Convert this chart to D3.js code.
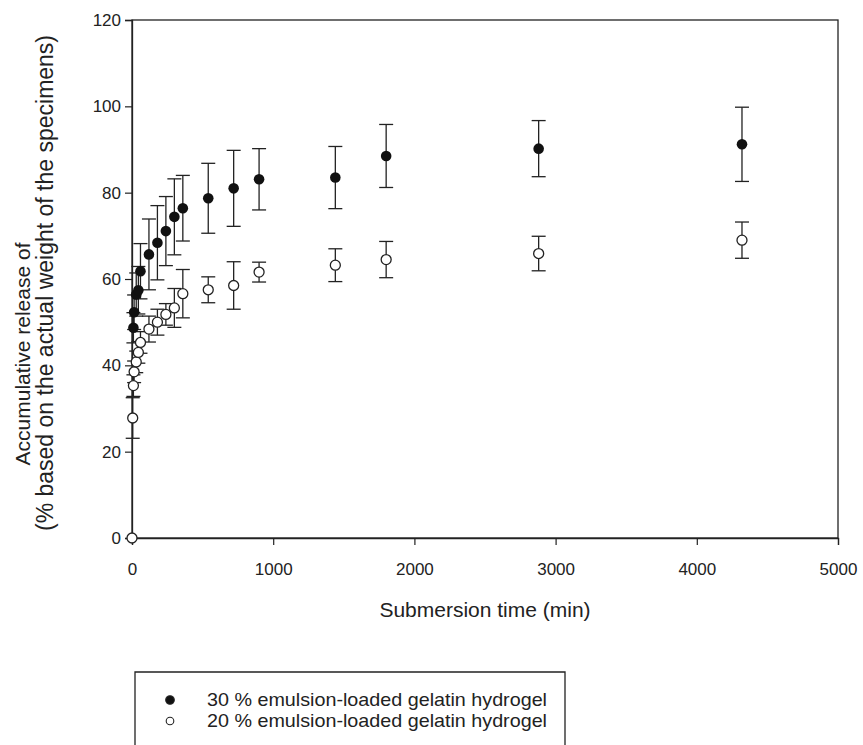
<!DOCTYPE html>
<html>
<head>
<meta charset="utf-8">
<script src="https://cdn.jsdelivr.net/npm/d3@7"></script>
<style>
	body { margin: 0; background: #fff; }
	svg { font-family: "Liberation Sans", Arial, sans-serif; }
</style>
</head>
<body>
<div id="chart"></div>
<script>
// submersion time (min)
let times30 = [10, 15, 30, 45, 60, 120, 180, 240, 300, 360, 540, 720, 900, 1440, 1800, 2880, 4320];
let release30 = [48.7, 52.3, 56.4, 57.4, 61.8, 65.7, 68.4, 71.1, 74.4, 76.4, 78.7, 81.0, 83.1, 83.5, 88.5, 90.2, 91.2];
let err30 = [3.5, 4, 5, 5.5, 6.4, 8.2, 8.6, 8.0, 8.8, 7.6, 8.1, 8.8, 7.1, 7.2, 7.3, 6.5, 8.6];

let times20 = [0, 5, 10, 15, 30, 45, 60, 120, 180, 240, 300, 360, 540, 720, 900, 1440, 1800, 2880, 4320];
let release20 = [0, 27.8, 35.3, 38.5, 40.8, 43.0, 45.3, 48.4, 50.0, 51.8, 53.3, 56.6, 57.5, 58.5, 61.6, 63.2, 64.5, 65.9, 69.0];
let err20 = [0, 4.7, 2.5, 2.5, 2.5, 2.5, 2.5, 3.0, 3.0, 2.5, 4.5, 5.6, 3.0, 5.5, 2.3, 3.8, 4.2, 4.0, 4.2];

let xTicks = [0, 1000, 2000, 3000, 4000, 5000];
let yTicks = [0, 20, 40, 60, 80, 100, 120];
let legendLabels = ["30 % emulsion-loaded gelatin hydrogel", "20 % emulsion-loaded gelatin hydrogel"];

let width = 863;
let height = 745;
let margin = { top: 20, right: 25, bottom: 207, left: 132 };

let svg = d3.select('#chart')
	.append('svg')
	.attr('width', width)
	.attr('height', height);

let xScale = d3.scaleLinear()
	.domain([0, 5000])
	.range([margin.left, width - margin.right]);

let yScale = d3.scaleLinear()
	.domain([0, 120])
	.range([height - margin.bottom, margin.top]);

let ink = "#222";

// frame
svg.append("rect")
	.attr("x", xScale(0))
	.attr("y", yScale(120))
	.attr("width", xScale(5000) - xScale(0))
	.attr("height", yScale(0) - yScale(120))
	.attr("fill", "none")
	.attr("stroke", ink)
	.attr("stroke-width", 1.3);

// X-Axis
let xAxis = svg.append("g")
	.attr("transform", "translate(0," + yScale(0) + ")")
	.call(d3.axisBottom(xScale).tickValues(xTicks).tickSize(7).tickPadding(18).tickFormat(d3.format("d")));

// Y-Axis
let yAxis = svg.append("g")
	.attr("transform", "translate(" + xScale(0) + ",0)")
	.call(d3.axisLeft(yScale).tickValues(yTicks).tickSize(7).tickPadding(4));

[xAxis, yAxis].forEach(g => {
	g.select(".domain").attr("stroke", ink).attr("stroke-width", 1.3);
	g.selectAll(".tick line").attr("stroke", ink).attr("stroke-width", 1.2);
	g.selectAll("text").attr("font-size", 17).attr("fill", ink)
		.attr("font-family", "'Liberation Sans', Arial, sans-serif");
});

// series as objects
let series30 = times30.map((t, i) => ({ t: t, v: release30[i], e: err30[i] }));
let series20 = times20.map((t, i) => ({ t: t, v: release20[i], e: err20[i] }));

function drawErrors(data) {
	let g = svg.append("g").attr("stroke", ink).attr("stroke-width", 1.3);
	data.filter(d => d.e > 0).forEach(d => {
		let x = xScale(d.t);
		g.append("line")
			.attr("x1", x).attr("x2", x)
			.attr("y1", yScale(d.v - d.e)).attr("y2", yScale(d.v + d.e));
		[d.v - d.e, d.v + d.e].forEach(c => {
			g.append("line")
				.attr("x1", x - 7).attr("x2", x + 7)
				.attr("y1", yScale(c)).attr("y2", yScale(c));
		});
	});
}

drawErrors(series30);
drawErrors(series20);

svg.append("g")
	.selectAll("circle")
	.data(series30)
	.enter()
	.append("circle")
	.attr("cx", d => xScale(d.t))
	.attr("cy", d => yScale(d.v))
	.attr("r", 5.3)
	.attr("fill", "#111");

svg.append("g")
	.selectAll("circle")
	.data(series20)
	.enter()
	.append("circle")
	.attr("cx", d => xScale(d.t))
	.attr("cy", d => yScale(d.v))
	.attr("r", 5)
	.attr("fill", "#fff")
	.attr("stroke", ink)
	.attr("stroke-width", 1.3);

// X-axis label
svg.append("text")
	.attr("x", (xScale(0) + xScale(5000)) / 2)
	.attr("y", 617)
	.attr("text-anchor", "middle")
	.attr("font-size", 21)
	.attr("fill", ink)
	.text("Submersion time (min)");

// Y-axis label (two lines, the first sits lower than the second)
svg.append("text")
	.attr("transform", "translate(30,354) rotate(-90)")
	.attr("text-anchor", "middle")
	.attr("font-size", 21)
	.attr("fill", ink)
	.text("Accumulative release of");
svg.append("text")
	.attr("transform", "translate(53,283) rotate(-90)")
	.attr("text-anchor", "middle")
	.attr("font-size", 23)
	.attr("fill", ink)
	.text("(% based on the actual weight of the specimens)");

// Legend
let legend = svg.append("g");
legend.append("path")
	.attr("d", "M135,746 V672 H565 V746")
	.attr("fill", "none")
	.attr("stroke", ink)
	.attr("stroke-width", 1.3);

legendLabels.forEach((label, i) => {
	let y = 700 + i * 21;
	legend.append("circle")
		.attr("cx", 170)
		.attr("cy", y)
		.attr("r", i === 0 ? 4.3 : 3.8)
		.attr("fill", i === 0 ? "#111" : "#fff")
		.attr("stroke", ink)
		.attr("stroke-width", 1.1);
	legend.append("text")
		.attr("x", 207)
		.attr("y", y + 6)
		.attr("font-size", 18.5)
		.attr("textLength", 340)
		.attr("lengthAdjust", "spacingAndGlyphs")
		.attr("fill", ink)
		.text(label);
});
</script>
</body>
</html>
